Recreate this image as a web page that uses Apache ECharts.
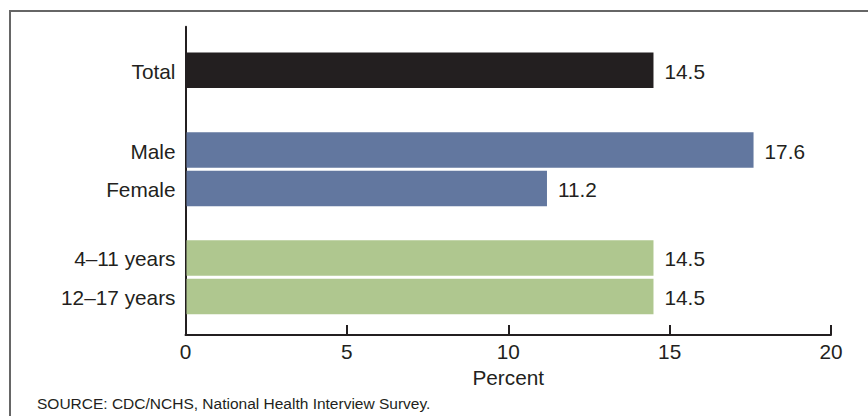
<!DOCTYPE html>
<html>
<head>
<meta charset="utf-8">
<script src="https://cdn.jsdelivr.net/npm/echarts@6/dist/echarts.min.js"></script>
<style>
html,body{margin:0;padding:0;background:#fff;}
#chart{width:868px;height:416px;}
</style>
</head>
<body>
<div id="chart"></div>
<script>
// ---- data ----
const categories = ['Total', 'Male', 'Female', '4–11 years', '12–17 years'];
const percentValues = [14.5, 17.6, 11.2, 14.5, 14.5];
const groups = ['total', 'sex', 'sex', 'age', 'age'];
const xTickValues = [0, 5, 10, 15, 20];
const axisTitle = 'Percent';
const sourceNote = 'SOURCE: CDC/NCHS, National Health Interview Survey.';

// ---- layout / style ----
const rowSlots = [1.13, 3.2, 4.2, 6.0, 7.0]; // row centres on the vertical scale (0..8)
const barThickness = 0.92;
const groupColors = { total: '#231f20', sex: '#62779f', age: '#afc78f' };
const FONT = "'Liberation Sans', Arial, Helvetica, sans-serif";
const TEXT = '#231f20';
const FS = 20.8;

const chart = echarts.init(document.getElementById('chart'), null, { renderer: 'svg' });

const seriesData = categories.map((c, i) => [percentValues[i], rowSlots[i], i]);

const option = {
  animation: false,
  backgroundColor: '#fff',
  grid: { left: 185.5, right: 37, top: 26.7, bottom: 81, containLabel: false },
  xAxis: {
    type: 'value',
    position: 'bottom',
    min: xTickValues[0],
    max: xTickValues[xTickValues.length - 1],
    interval: xTickValues[1] - xTickValues[0],
    name: axisTitle,
    nameLocation: 'middle',
    nameGap: 31,
    nameTextStyle: { fontFamily: FONT, fontSize: FS, color: TEXT },
    axisLine: { show: true, onZero: false, lineStyle: { color: TEXT, width: 2 } },
    axisTick: { show: true, inside: true, length: 10, lineStyle: { color: TEXT, width: 2 } },
    axisLabel: { fontFamily: FONT, fontSize: FS, color: TEXT, margin: 6 },
    splitLine: { show: false }
  },
  yAxis: {
    type: 'value',
    position: 'left',
    min: 0,
    max: 8,
    inverse: true,
    axisLine: { show: true, onZero: false, lineStyle: { color: TEXT, width: 2 } },
    axisTick: { show: false },
    axisLabel: { show: false },
    splitLine: { show: false }
  },
  graphic: [
    {
      type: 'rect',
      shape: { x: 10, y: 11, width: 900, height: 500 },
      style: { fill: 'none', stroke: '#666', lineWidth: 2 },
      silent: true,
      z: -1
    },
    {
      type: 'text',
      left: 37,
      top: 395,
      style: { text: sourceNote, fontFamily: FONT, fontSize: 15.5, fill: TEXT }
    }
  ],
  series: [{
    type: 'custom',
    data: seriesData,
    encode: { x: 0, y: 1 },
    clip: false,
    renderItem: function (params, api) {
      const v = api.value(0);
      const y = api.value(1);
      const idx = api.value(2);
      const start = api.coord([0, y]);
      const end = api.coord([v, y]);
      const h = api.size([0, barThickness])[1];
      return {
        type: 'group',
        children: [
          {
            type: 'rect',
            shape: { x: start[0] + 1, y: start[1] - h / 2, width: end[0] - start[0] - 1, height: h },
            style: { fill: groupColors[groups[idx]] }
          },
          {
            type: 'text',
            x: end[0] + 11,
            y: end[1] + 1,
            style: { text: String(percentValues[idx]), fontFamily: FONT, fontSize: FS, fill: TEXT, align: 'left', verticalAlign: 'middle' }
          },
          {
            type: 'text',
            x: start[0] - 10,
            y: start[1] + 1,
            style: { text: categories[idx], fontFamily: FONT, fontSize: FS, fill: TEXT, align: 'right', verticalAlign: 'middle' }
          }
        ]
      };
    }
  }]
};

chart.setOption(option);
</script>
</body>
</html>
